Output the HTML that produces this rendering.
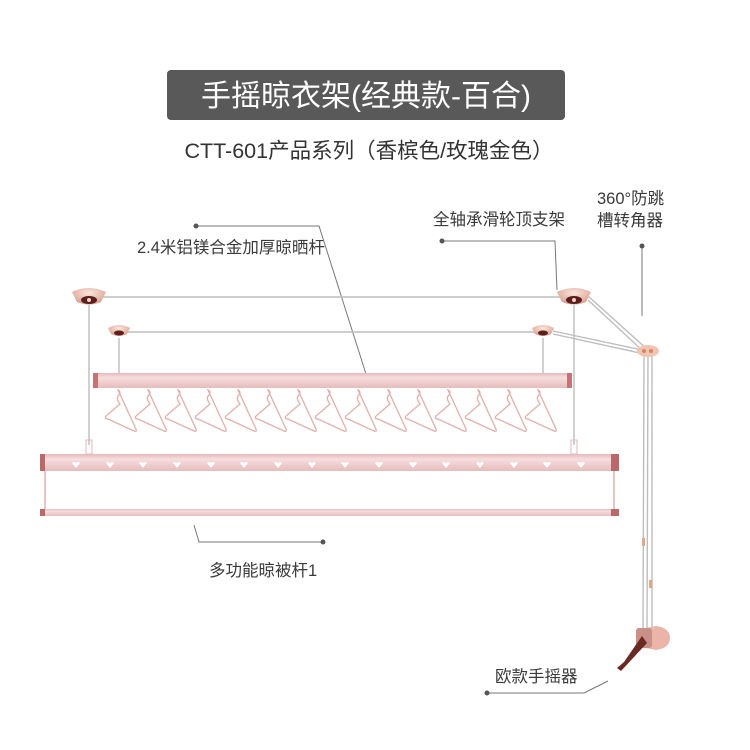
<!DOCTYPE html>
<html><head><meta charset="utf-8"><style>
html,body{margin:0;padding:0;background:#fff;}
svg{display:block;font-family:"Liberation Sans","Noto Sans CJK SC",sans-serif;}
</style></head><body>
<svg width="750" height="750" viewBox="0 0 750 750" xmlns="http://www.w3.org/2000/svg">
<defs>
<linearGradient id="bar" x1="0" y1="0" x2="0" y2="1">
<stop offset="0" stop-color="#e8b8b8"/><stop offset="0.3" stop-color="#f6dede"/><stop offset="0.6" stop-color="#f0cfcf"/><stop offset="1" stop-color="#e6bcbc"/>
</linearGradient>
<radialGradient id="mt" cx="0.5" cy="0.3" r="0.7">
<stop offset="0" stop-color="#fbe6dc"/><stop offset="1" stop-color="#d89a8a"/>
</radialGradient>
<g id="hanger" fill="none" stroke="#e0b0aa" stroke-width="1.3">
<path d="M0,0 q4,2 0,6 q-2,3 2,8 l-14,12 q-2,3 2,3 l26,12 q3,1 2,-2 z"/>
</g>
<g id="heart"><path d="M-4,-2 q2,-2 4,0 q2,-2 4,0 l-4,5 z" fill="#fff"/></g>
</defs>

<!-- title -->
<rect x="167" y="70" width="398" height="50" rx="4" fill="#595959"/>
<text x="366" y="106" text-anchor="middle" font-size="30" fill="#fff">手摇晾衣架(经典款-百合)</text>
<text x="369" y="158" text-anchor="middle" font-size="21.5" fill="#333">CTT-601产品系列（香槟色/玫瑰金色）</text>

<!-- labels -->
<g font-size="16.5" fill="#3a3a3a">
<text x="137" y="253">2.4米铝镁合金加厚晾晒杆</text>
<text x="433" y="225">全轴承滑轮顶支架</text>
<text x="597" y="204">360°防跳</text>
<text x="597" y="226">槽转角器</text>
<text x="209" y="576">多功能晾被杆1</text>
<text x="495" y="682">欧款手摇器</text>
</g>
<g stroke="#777" stroke-width="1" fill="none">
<polyline points="196,226 319,226 366,374"/>
<polyline points="442,241 555,241 557,290"/>
<line x1="642" y1="246" x2="642" y2="316"/>
<polyline points="194,525 199,542 323,542"/>
<polyline points="487,693 584,693 608,681"/>
</g>
<g fill="#555">
<circle cx="196" cy="226" r="2.5"/><circle cx="442" cy="241" r="2.5"/><circle cx="642" cy="246" r="2.5"/>
<circle cx="323" cy="542" r="2.5"/><circle cx="487" cy="693" r="2.5"/>
</g>

<!-- ropes -->
<g stroke="#bdbdbd" stroke-width="1.4" fill="none">
<line x1="100" y1="297" x2="565" y2="297"/>
<line x1="125" y1="332" x2="538" y2="332"/>
<line x1="89" y1="305" x2="89" y2="445"/>
<line x1="119" y1="338" x2="119" y2="373"/>
<line x1="574" y1="305" x2="574" y2="445"/>
<line x1="543" y1="338" x2="543" y2="373"/>
<line x1="588" y1="296" x2="648" y2="350"/>
<line x1="588" y1="300" x2="644" y2="352"/>
<line x1="553" y1="331" x2="642" y2="350"/>
<line x1="553" y1="334" x2="640" y2="353"/>
<line x1="644" y1="353" x2="643" y2="630"/>
<line x1="648" y1="353" x2="647" y2="630"/>
<line x1="652" y1="353" x2="652" y2="630"/>
</g>
<rect x="642" y="538" width="3" height="8" fill="#e0a88a"/>
<rect x="649" y="580" width="3" height="8" fill="#e0a88a"/>

<!-- mounts -->
<g>
<path d="M72,292 q16,-8 34,0 l-5,10 q-12,5 -24,0 z" fill="url(#mt)"/>
<ellipse cx="89" cy="300" rx="8" ry="4" fill="#5a1e1e"/><circle cx="89" cy="300" r="2" fill="#f3d0c0"/>
<path d="M557,292 q17,-8 34,0 l-5,10 q-12,5 -24,0 z" fill="url(#mt)"/>
<ellipse cx="574" cy="300" rx="8" ry="4" fill="#5a1e1e"/><circle cx="574" cy="300" r="2" fill="#f3d0c0"/>
<path d="M108,328 q11,-6 22,0 l-3,6 q-8,4 -16,0 z" fill="url(#mt)"/>
<ellipse cx="119" cy="333" rx="5" ry="2.5" fill="#5a1e1e"/>
<path d="M532,328 q11,-6 22,0 l-3,6 q-8,4 -16,0 z" fill="url(#mt)"/>
<ellipse cx="543" cy="333" rx="5" ry="2.5" fill="#5a1e1e"/>
<ellipse cx="648" cy="351" rx="11" ry="6" fill="#f0c4b0"/>
<circle cx="644" cy="351" r="2" fill="#d08a60"/><circle cx="651" cy="351" r="2" fill="#d08a60"/>
</g>

<!-- upper bar -->
<rect x="93" y="373" width="479" height="15" fill="url(#bar)"/>
<rect x="93" y="373" width="5" height="15" fill="#c47474"/>
<rect x="567" y="373" width="5" height="15" fill="#c47474"/>

<!-- hangers -->
<g>
<use href="#hanger" x="118" y="390"/><use href="#hanger" x="148" y="390"/><use href="#hanger" x="178" y="390"/><use href="#hanger" x="208" y="390"/>
<use href="#hanger" x="238" y="390"/><use href="#hanger" x="268" y="390"/><use href="#hanger" x="298" y="390"/><use href="#hanger" x="328" y="390"/>
<use href="#hanger" x="358" y="390"/><use href="#hanger" x="388" y="390"/><use href="#hanger" x="418" y="390"/><use href="#hanger" x="448" y="390"/>
<use href="#hanger" x="478" y="390"/><use href="#hanger" x="508" y="390"/><use href="#hanger" x="538" y="390"/>
</g>

<!-- lower bar -->
<rect x="86" y="440" width="6" height="14" fill="none" stroke="#e0b8b8"/>
<rect x="571" y="440" width="6" height="14" fill="none" stroke="#e0b8b8"/>
<rect x="40" y="454" width="578" height="17" fill="url(#bar)"/>
<rect x="40" y="454" width="5" height="17" fill="#b86a6a"/>
<rect x="611" y="454" width="8" height="17" fill="#b86a6a"/>
<g>
<use href="#heart" x="76" y="465"/><use href="#heart" x="110" y="465"/><use href="#heart" x="143" y="465"/><use href="#heart" x="177" y="465"/>
<use href="#heart" x="211" y="465"/><use href="#heart" x="244" y="465"/><use href="#heart" x="278" y="465"/><use href="#heart" x="312" y="465"/>
<use href="#heart" x="345" y="465"/><use href="#heart" x="379" y="465"/><use href="#heart" x="413" y="465"/><use href="#heart" x="446" y="465"/>
<use href="#heart" x="480" y="465"/><use href="#heart" x="514" y="465"/><use href="#heart" x="547" y="465"/><use href="#heart" x="581" y="465"/>
</g>
<line x1="45" y1="471" x2="45" y2="509" stroke="#e8c4c4" stroke-width="2"/>
<line x1="614" y1="471" x2="614" y2="509" stroke="#e8c4c4" stroke-width="2"/>
<rect x="40" y="509" width="578" height="7" fill="url(#bar)"/>
<rect x="40" y="509" width="5" height="7" fill="#b86a6a"/>
<rect x="611" y="509" width="8" height="7" fill="#b86a6a"/>

<!-- crank -->
<path d="M636,630 l20,-4 q14,2 14,12 q0,10 -14,12 l-20,-4 z" fill="#eab4a8"/>
<rect x="636" y="628" width="16" height="20" rx="3" fill="#c99088"/>
<path d="M642,636 l-18,26 l-7,6 l4,3 l26,-28 z" fill="#6a2a24"/>
</svg>
</body></html>
